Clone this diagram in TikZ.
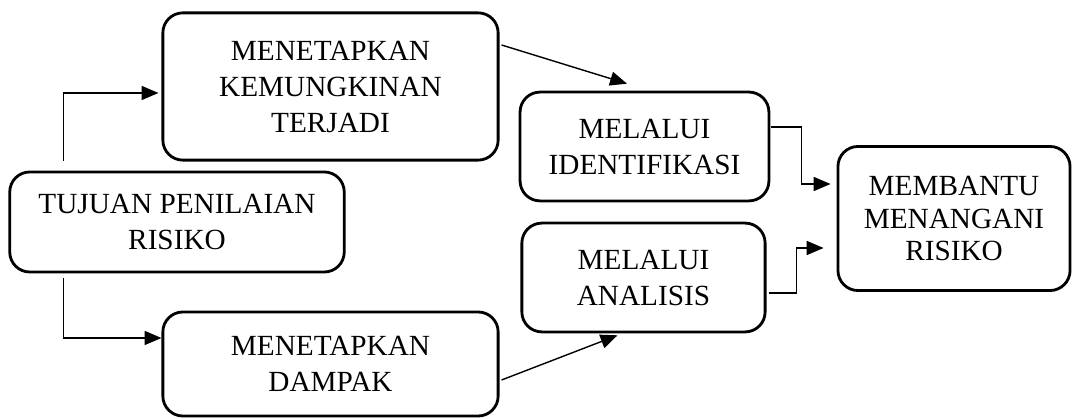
\documentclass[tikz,border=0pt]{standalone}
\usepackage{fontspec}
\setmainfont{Liberation Serif}
\usetikzlibrary{arrows.meta,calc,positioning}

\begin{document}
\begin{tikzpicture}[x=0.0125cm, y=-0.0125cm,
    box/.style={draw, rectangle, rounded corners=0.25cm, line width=1pt, align=center, inner sep=0pt, font=\fontsize{10.4}{12.8}\selectfont},
    link/.style={-{Triangle[length=6pt,width=5pt]}, line width=0.5pt}
]
    \useasboundingbox (0,0) rectangle (1075,419);

    % Boxes
    \node [box, minimum width=4.19cm, minimum height=1.84cm] (kemungkinan) at (330.5,86.5) {MENETAPKAN\\KEMUNGKINAN\\TERJADI};
    \node [box, minimum width=4.18cm, minimum height=1.25cm] (tujuan) at (177,222) {TUJUAN PENILAIAN\\RISIKO};
    \node [box, minimum width=4.19cm, minimum height=1.30cm] (dampak) at (330.5,364) {MENETAPKAN\\DAMPAK};
    \node [box, minimum width=3.11cm, minimum height=1.36cm] (identifikasi) at (644.5,146.5) {MELALUI\\IDENTIFIKASI};
    \node [box, minimum width=3.04cm, minimum height=1.36cm] (analisis) at (643.5,277.5) {MELALUI\\ANALISIS};
    \node [box, minimum width=2.90cm, minimum height=1.80cm, font=\fontsize{10.4}{11.6}\selectfont] (membantu) at (954,218.5) {MEMBANTU\\MENANGANI\\RISIKO};

    % Connectors
    \draw [link] ($(tujuan.north west)+(55,-10)$) |- ($(kemungkinan.west)+(-3,6.5)$);
    \draw [link] ($(tujuan.south west)+(55,5)$) |- ($(dampak.west)+(0,-26)$);
    \draw [link] ($(kemungkinan.east)+(2,-41.5)$) -- ($(identifikasi.north)+(-17.5,-7)$);
    \draw [link] ($(dampak.east)+(2,16)$) -- ($(analisis.south)+(-26,2)$);
    \draw [link] ($(identifikasi.east)+(1,-19.5)$) -- ++(30,0) |- ($(membantu.west)+(-6,-34.5)$);
    \draw [link] ($(analisis.east)+(2,15.5)$) -- ++(28,0) |- ($(membantu.west)+(-13,29.5)$);
\end{tikzpicture}
\end{document}
